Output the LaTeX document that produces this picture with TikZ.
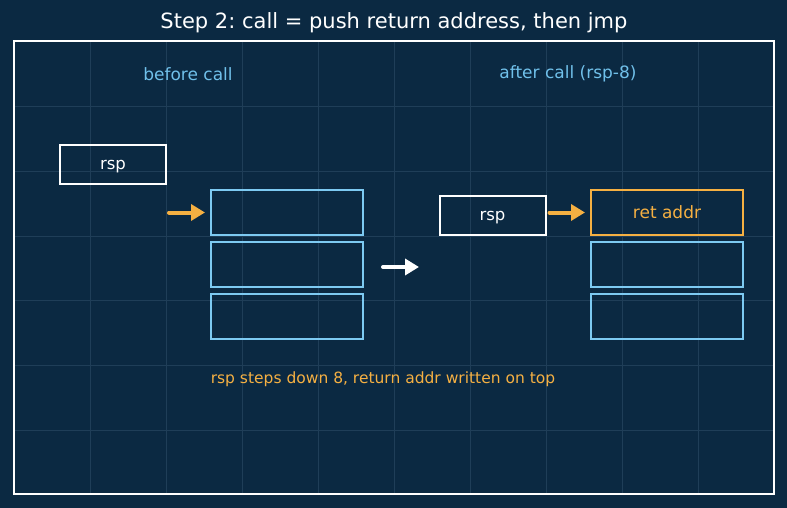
\documentclass[tikz,border=0pt]{standalone}
\usepackage{fontspec}
\setmainfont{DejaVu Sans}
\usetikzlibrary{positioning, arrows.meta}

\definecolor{bgnavy}{RGB}{11,41,66}
\definecolor{gridline}{RGB}{31,62,88}
\definecolor{slotblue}{RGB}{125,202,242}
\definecolor{labelblue}{RGB}{112,192,234}
\definecolor{retorange}{RGB}{245,176,66}

\begin{document}
\frenchspacing
\begin{tikzpicture}[x=1pt, y=-1pt,
	regbox/.style={draw=white, line width=2pt, minimum width=106pt, minimum height=39pt, text depth=0pt, text=white, font=\fontsize{16.5}{18}\selectfont},
	slot/.style={draw=slotblue, line width=2pt, minimum width=152pt, minimum height=45pt},
	retslot/.style={slot, draw=retorange, text=retorange, font=\fontsize{17}{19}\selectfont},
	ptr/.style={line width=4pt, line cap=round, -{Triangle[length=14pt, width=16pt]}}]
	\useasboundingbox (0, 0) rectangle (787, 508);
	\fill[bgnavy] (0, 0) rectangle (787, 508);

	% faint grid inside the frame
	\foreach \gx in {90, 166, 242, 318, 394, 470, 546, 622, 698}
		\draw[gridline, line width=0.8pt] (\gx, 42) -- (\gx, 493);
	\foreach \gy in {106, 171, 236, 300, 365, 430}
		\draw[gridline, line width=0.8pt] (15, \gy) -- (773, \gy);
	\draw[white, line width=1.8pt] (14, 41) rectangle (774, 494);

	\node[text=white, font=\fontsize{21}{24}\selectfont] (title) at (394, 23) {Step 2: call = push return address, then jmp};
	\node[text=labelblue, font=\fontsize{17}{19}\selectfont] (before) at (188, 74) {before call};
	\node[text=labelblue, font=\fontsize{17}{19}\selectfont] (after) at (568, 74) {after call (rsp-8)};

	% before call
	\node[regbox] (rspA) at (113, 164.5) {rsp};
	\node[slot] (slotA1) at (287, 212.5) {};
	\node[slot] (slotA2) at (287, 264.5) {};
	\node[slot] (slotA3) at (287, 316) {};
	\coordinate (ptrA) at (169, 212.5);
	\draw[ptr, retorange, shorten >=5pt] (ptrA) -- (slotA1.west);

	\coordinate (stepL) at (383, 267);
	\coordinate (stepR) at (419, 267);
	\draw[ptr, white] (stepL) -- (stepR);

	% after call
	\node[regbox] (rspB) at (492.5, 215.5) {rsp};
	\node[retslot] (slotB1) at (667, 212.5) {ret addr};
	\node[slot] (slotB2) at (667, 264.5) {};
	\node[slot] (slotB3) at (667, 316) {};
	\draw[ptr, retorange, shorten <=3pt, shorten >=5pt] (rspB.east |- slotB1.west) -- (slotB1.west);

	\node[text=retorange, font=\fontsize{15.5}{18}\selectfont] (note) at (383, 379) {rsp steps down 8, return addr written on top};
\end{tikzpicture}
\end{document}
